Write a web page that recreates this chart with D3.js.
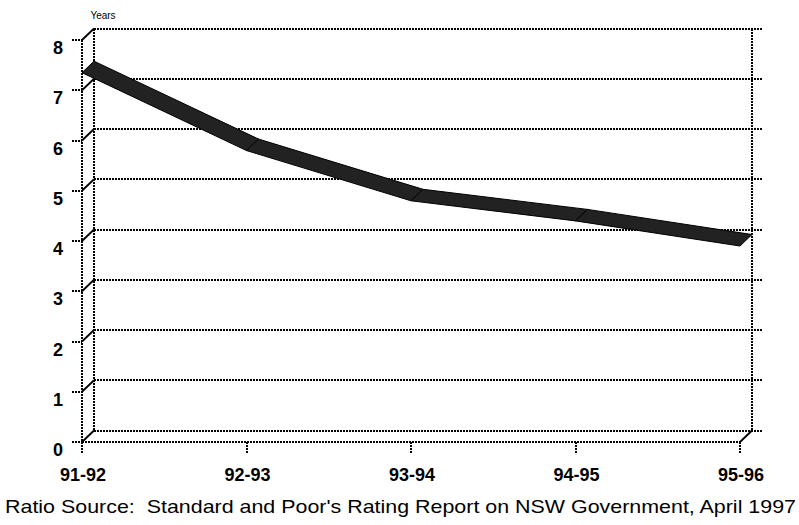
<!DOCTYPE html>
<html>
<head>
<meta charset="utf-8">
<script src="https://cdn.jsdelivr.net/npm/d3@7"></script>
<style>
  html, body { margin: 0; padding: 0; background: #fff; }
  svg { display: block; }
  text { font-family: "Liberation Sans", Arial, sans-serif; fill: #000; white-space: pre; }
</style>
</head>
<body>
<svg id="chart" width="799" height="525"></svg>
<script>
// Debt repayment period (years), by financial year
const years = ["91-92", "92-93", "93-94", "94-95", "95-96"];
const values = [7.35, 5.8, 4.8, 4.4, 3.9];
const yTicks = [0, 1, 2, 3, 4, 5, 6, 7, 8];
const unitLabel = "Years";
const sourceNote = "Ratio Source:  Standard and Poor's Rating Report on NSW Government, April 1997";

const svg = d3.select("#chart");

// front plane scales; the back plane is offset by a fixed depth
const x = d3.scalePoint().domain(years).range([82, 740]);
const y = d3.scaleLinear().domain([0, 8]).range([442, 40]);
const DX = 12, DY = -11.5;

const dotted = sel => sel
  .attr("stroke", "#000")
  .attr("stroke-width", 2)
  .attr("stroke-dasharray", "2 1")
  .attr("fill", "none")
  .attr("shape-rendering", "crispEdges");

const grid = svg.append("g");

// back-wall gridlines
grid.selectAll("line.back")
  .data(yTicks)
  .join("line")
  .attr("class", "back")
  .attr("x1", x(years[0]) + DX)
  .attr("x2", x(years[years.length - 1]) + DX + 11)
  .attr("y1", d => Math.round(y(d) + DY))
  .attr("y2", d => Math.round(y(d) + DY))
  .call(dotted);

// left-side depth connectors and outer tick marks
grid.selectAll("line.depth")
  .data(yTicks)
  .join("line")
  .attr("class", "depth")
  .attr("x1", x(years[0]))
  .attr("x2", x(years[0]) + DX)
  .attr("y1", d => y(d))
  .attr("y2", d => y(d) + DY)
  .attr("stroke", "#000")
  .attr("stroke-width", 1.8);

grid.selectAll("line.ytick")
  .data(yTicks)
  .join("line")
  .attr("class", "ytick")
  .attr("x1", x(years[0]) - 10)
  .attr("x2", x(years[0]))
  .attr("y1", d => Math.round(y(d)))
  .attr("y2", d => Math.round(y(d)))
  .call(dotted);

// vertical walls
grid.append("line")
  .attr("x1", x(years[0])).attr("x2", x(years[0]))
  .attr("y1", y(8)).attr("y2", y(0) + 11)
  .call(dotted);
grid.append("line")
  .attr("x1", x(years[0]) + DX).attr("x2", x(years[0]) + DX)
  .attr("y1", y(8) + DY).attr("y2", y(0) + DY)
  .call(dotted);
grid.append("line")
  .attr("x1", x(years[years.length - 1]) + DX).attr("x2", x(years[years.length - 1]) + DX)
  .attr("y1", y(8) + DY).attr("y2", y(0) + DY)
  .call(dotted);

// front floor edge with its right-hand depth connector
grid.append("line")
  .attr("x1", x(years[0])).attr("x2", x(years[years.length - 1]))
  .attr("y1", y(0)).attr("y2", y(0))
  .call(dotted);
grid.append("line")
  .attr("x1", x(years[years.length - 1])).attr("x2", x(years[years.length - 1]) + DX)
  .attr("y1", y(0)).attr("y2", y(0) + DY)
  .attr("stroke", "#000").attr("stroke-width", 1.8);

// category tick marks
grid.selectAll("line.xtick")
  .data(years)
  .join("line")
  .attr("class", "xtick")
  .attr("x1", d => x(d)).attr("x2", d => x(d))
  .attr("y1", y(0)).attr("y2", y(0) + 11)
  .call(dotted);

// ribbon: one parallelogram per segment between front and back planes
const pts = years.map((c, i) => ({ x: x(c), y: y(values[i]) }));
const segs = d3.pairs(pts);
svg.append("g")
  .selectAll("path")
  .data(segs)
  .join("path")
  .attr("d", ([a, b]) => {
    const p = d3.path();
    p.moveTo(a.x, a.y);
    p.lineTo(b.x, b.y);
    p.lineTo(b.x + DX, b.y + DY);
    p.lineTo(a.x + DX, a.y + DY);
    p.closePath();
    return p.toString();
  })
  .attr("fill", "#222")
  .attr("stroke", "#000")
  .attr("stroke-width", 1)
  .attr("stroke-linejoin", "round");

// y-axis labels
svg.append("g")
  .selectAll("text")
  .data(yTicks)
  .join("text")
  .attr("x", 63)
  .attr("y", d => y(d) + 14)
  .attr("text-anchor", "end")
  .attr("font-size", 18)
  .attr("font-weight", "bold")
  .text(d => d);

// category labels
svg.append("g")
  .selectAll("text")
  .data(years)
  .join("text")
  .attr("x", d => x(d) + 1)
  .attr("y", 481)
  .attr("text-anchor", "middle")
  .attr("font-size", 18)
  .attr("font-weight", "bold")
  .text(d => d);

// unit label above the axis
svg.append("text")
  .attr("x", 103)
  .attr("y", 19)
  .attr("text-anchor", "middle")
  .attr("font-size", 10)
  .text(unitLabel);

// source note
svg.append("text")
  .attr("x", 5)
  .attr("y", 513)
  .attr("font-size", 19)
  .attr("textLength", 791)
  .attr("lengthAdjust", "spacingAndGlyphs")
  .text(sourceNote);
</script>
</body>
</html>
